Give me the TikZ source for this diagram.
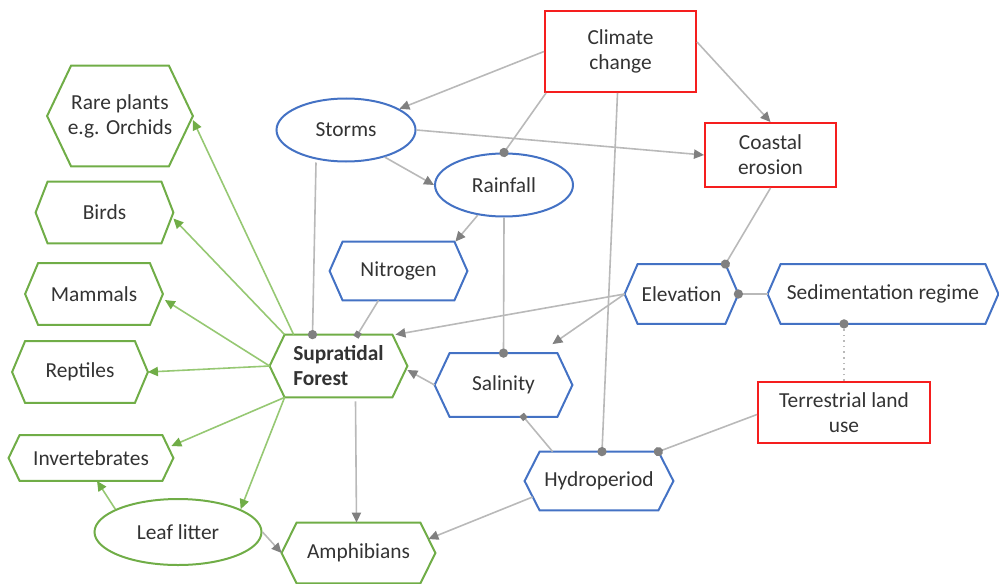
\documentclass[tikz,border=0pt]{standalone}
\usepackage{fontspec}
\setmainfont{Carlito}
\usetikzlibrary{arrows.meta,shapes.geometric}
\definecolor{grn}{RGB}{112,173,71}
\definecolor{grnline}{RGB}{150,200,115}
\definecolor{blu}{RGB}{68,114,196}
\definecolor{rd}{RGB}{245,30,30}
\definecolor{lnk}{RGB}{185,185,185}
\definecolor{tipc}{RGB}{128,128,128}
\tikzset{
  txt/.style={font=\fontsize{10.7}{12.5}\selectfont, text=black!80, inner sep=0pt, align=center},
  nodeline/.style={line width=1pt, line join=miter},
  ell/.style={txt, ellipse, nodeline},
  box/.style={txt, rectangle, nodeline, draw=rd},
  garr/.style={draw=lnk, line width=0.8pt, -{Triangle[length=5pt,width=4.6pt,fill=tipc,color=tipc]}},
  gdot/.style={draw=lnk, line width=0.8pt, -{Circle[length=4.6pt,fill=tipc,color=tipc]}, shorten >=-2.3pt},
  gsq/.style={draw=lnk, line width=0.8pt, -{Square[length=3pt,fill=tipc,color=tipc]}, shorten >=-1.5pt},
  grarr/.style={draw=grnline, line width=0.8pt, -{Triangle[length=5pt,width=4.6pt,fill=grn,color=grn]}}
}
% #1 node options, #2 colour, #3 name, #4 x, #5 y, #6 width, #7 height, #8 indent, #9 text
\newcommand\hexnode[9][]{%
  \node[txt, minimum width=#6*0.5pt, minimum height=#7*0.5pt, #1] (#3) at (#4,#5) {#9};
  \draw[draw=#2, nodeline] (#3.west) -- ([xshift=#8*0.5pt]#3.north west) -- ([xshift=-#8*0.5pt]#3.north east)
    -- (#3.east) -- ([xshift=-#8*0.5pt]#3.south east) -- ([xshift=#8*0.5pt]#3.south west) -- cycle;}
\begin{document}
\begin{tikzpicture}[x=0.5pt, y=-0.5pt]
\useasboundingbox (0,0) rectangle (999,583);
% green hexagons
\hexnode{grn}{rare}{120}{116}{145}{100}{24}{Rare plants\\e.g. Orchids}
\hexnode{grn}{birds}{104.5}{212.5}{137}{61}{12}{Birds}
\hexnode{grn}{mam}{94}{294}{137}{61}{13}{Mammals}
\hexnode{grn}{rep}{80}{372}{135}{61}{13}{Reptiles}
\hexnode{grn}{inv}{91}{458}{164}{45}{11}{Invertebrates}
\hexnode[align=left, font=\fontsize{10.7}{12.5}\selectfont\bfseries]{grn}{sf}{338.5}{366}{137}{62}{15}{Supratidal\\Forest}
\hexnode{grn}{amph}{358.5}{553}{153}{60}{15}{Amphibians}
% blue hexagons
\hexnode{blu}{nit}{398.5}{271}{137}{58}{13}{Nitrogen}
\hexnode{blu}{elev}{681.5}{294}{113}{59}{13}{Elevation}
\hexnode{blu}{sed}{883}{294}{230}{59}{13}{Sedimentation regime}
\hexnode{blu}{sal}{503.5}{385}{137}{63}{15}{Salinity}
\hexnode{blu}{hyd}{599}{481}{148}{58}{15}{Hydroperiod}
% ellipses
\node[ell, draw=blu, minimum width=139*0.5pt, minimum height=63*0.5pt] (storms) at (346,130) {Storms};
\node[ell, draw=blu, minimum width=138*0.5pt, minimum height=63*0.5pt] (rain) at (504,185) {Rainfall};
\node[ell, draw=grn, minimum width=167*0.5pt, minimum height=66*0.5pt] (leaf) at (178,532) {Leaf litter};
% red boxes
\node[box, minimum width=151*0.5pt, minimum height=81*0.5pt] (cc) at (620.5,51.5) {Climate\\change};
\node[box, minimum width=131*0.5pt, minimum height=64*0.5pt] (ce) at (770.5,155) {Coastal\\erosion};
\node[box, minimum width=172*0.5pt, minimum height=61*0.5pt] (tlu) at (844,412.5) {Terrestrial land\\use};
% gray connectors
\draw[garr] (cc.west) -- (storms);
\draw[gdot] ([xshift=1pt]cc.south west) -- (rain.north);
\draw[gdot] ([xshift=-1.5pt]cc.south) -- ([xshift=1.5pt]hyd.north);
\draw[garr] ([yshift=4.75pt]cc.east) -- (ce.north);
\draw[garr] (storms.east) -- (ce.west);
\draw[garr] (storms.-35) -- (rain.west);
\draw[gdot] ([xshift=-15pt]storms.south) -- ([xshift=-13pt]sf.north);
\draw[garr] (rain.-131) -- ([xshift=-6pt]nit.north east);
\draw[gdot] (rain.south) -- (sal.north);
\draw[gsq] ([xshift=-10pt]nit.south) -- ([xshift=9.5pt]sf.north);
\draw[garr] (elev.west) -- ([xshift=-6pt]sf.north east);
\draw[garr] (elev.west) -- ([xshift=-10pt,yshift=4.5pt]sal.north east);
\draw[gdot] (ce.south) -- ([xshift=-6.5pt]elev.north east);
\draw[gdot] (sed.west) -- (elev.east);
\draw[gdot, dotted] (tlu.north) -- ([xshift=-19.5pt]sed.south);
\draw[gdot] ([yshift=-1pt]tlu.west) -- ([xshift=-7.5pt]hyd.north east);
\draw[gsq] ([xshift=14pt]hyd.north west) -- ([xshift=10pt]sal.south);
\draw[garr] (sal.west) -- ([yshift=-2pt]sf.east);
\draw[garr] ([xshift=8.5pt,yshift=-2pt]sf.south) -- ([xshift=-1pt]amph.north);
\draw[garr] ([xshift=4pt,yshift=-8pt]hyd.west) -- ([xshift=-3.5pt,yshift=7pt]amph.east);
\draw[garr] (leaf.east) -- (amph.west);
% green connectors
\draw[grarr] ([xshift=12pt]sf.north west) -- ([yshift=-2pt]rare.east);
\draw[grarr] ([xshift=7.5pt]sf.north west) -- ([yshift=-3pt]birds.east);
\draw[grarr] (sf.west) -- ([xshift=1pt,yshift=-3pt]mam.east);
\draw[grarr] (sf.west) -- (rep.east);
\draw[grarr] ([xshift=7.5pt]sf.south west) -- ([xshift=-1pt,yshift=6pt]inv.east);
\draw[grarr] ([xshift=7.5pt]sf.south west) -- (leaf.20);
\draw[grarr] (leaf.160) -- ([xshift=3pt]inv.south);
\end{tikzpicture}
\end{document}
